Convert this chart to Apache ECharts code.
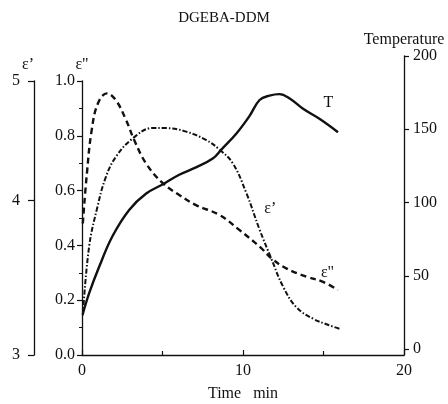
<!DOCTYPE html>
<html>
<head>
<meta charset="utf-8">
<script src="https://cdn.jsdelivr.net/npm/echarts@6/dist/echarts.min.js"></script>
<style>
  html, body { margin: 0; padding: 0; background: #fff; }
  #chart { width: 448px; height: 404px; }
</style>
</head>
<body>
<div id="chart"></div>
<script>
// temperature (solid, right axis)
const timeT = [0.05, 0.44, 1.06, 1.89, 2.93, 3.97, 5.11, 6.04, 7.08, 8.12, 8.64, 9.58, 10.4, 11.03, 11.65, 12.27, 12.9, 13.73, 14.77, 15.9]
const tempT = [24, 38, 56, 77, 95, 106, 113, 119, 124, 130, 136, 147, 159, 170, 173, 174, 171, 164, 157, 148]

// eps' (dash-dot, log axis 3..5)
const timeE1 = [0.05, 0.44, 0.95, 1.48, 2.1, 3.13, 4.38, 5.2, 6.46, 7.7, 8.54, 9.36, 10.2, 11.03, 11.76, 12.48, 13.31, 14.35, 15.39, 16.0]
const eps1 = [3.23, 3.67, 3.95, 4.18, 4.34, 4.49, 4.58, 4.58, 4.55, 4.48, 4.40, 4.29, 4.06, 3.79, 3.59, 3.41, 3.28, 3.21, 3.17, 3.15]

// eps'' (dashed, 0..1)
const timeE2 = [0.05, 0.3, 0.6, 1.0, 1.55, 2.1, 2.72, 3.24, 3.97, 5.0, 6.04, 7.08, 8.54, 9.78, 11.1, 11.76, 12.69, 13.94, 14.97, 15.9]
const eps2 = [0.48, 0.66, 0.82, 0.92, 0.955, 0.93, 0.86, 0.785, 0.70, 0.628, 0.584, 0.547, 0.511, 0.456, 0.392, 0.353, 0.316, 0.286, 0.267, 0.237]

const eps1Ticks = [3, 4, 5]
const tempTicks = [0, 50, 100, 150, 200]

const zip = (xs, ys) => xs.map((x, i) => [x, ys[i]])

const chart = echarts.init(document.getElementById('chart'))
const serif = '"Liberation Serif", "Times New Roman", serif'
const ink = '#111'
const txt = { fontFamily: serif, fontSize: 16, color: ink }
const nameTxt = { ...txt, verticalAlign: 'middle' }
const line = { show: true, onZero: false, lineStyle: { color: ink, width: 1.3 } }
const tick = (len, extra) => Object.assign({ show: true, length: len, lineStyle: { color: ink, width: 1.2 } }, extra)

const curveLabel = (text) => ({
  symbol: 'circle',
  symbolSize: 0,
  label: { show: true, position: 'inside', formatter: text, ...txt },
})

const option = {
  animation: false,
  title: {
    text: 'DGEBA-DDM',
    left: 'center',
    top: 6,
    textStyle: { fontFamily: serif, fontSize: 15, fontWeight: 'normal', color: ink },
  },
  grid: [
    { left: 82, right: 44, top: 81, bottom: 49, outerBoundsMode: 'none' },
    { left: 82, right: 44, top: 56, bottom: 49, outerBoundsMode: 'none' },
  ],
  xAxis: [
    {
      gridIndex: 0,
      type: 'value',
      min: 0,
      max: 20,
      interval: 10,
      name: 'Time   min',
      nameLocation: 'middle',
      nameGap: 31,
      nameTextStyle: txt,
      axisLine: line,
      axisTick: tick(5, { inside: true }),
      minorTick: { show: true, splitNumber: 2, length: 4, lineStyle: { color: ink, width: 1.2 } },
      axisLabel: { ...txt, margin: 8 },
      splitLine: { show: false },
    },
    { gridIndex: 1, type: 'value', min: 0, max: 20, show: false },
  ],
  yAxis: [
    {
      gridIndex: 0,
      type: 'value',
      min: 0,
      max: 1,
      interval: 0.2,
      position: 'left',
      name: 'ε"',
      nameLocation: 'end',
      nameGap: 13,
      nameTextStyle: nameTxt,
      axisLine: line,
      axisTick: tick(5),
      minorTick: { show: true, splitNumber: 2, length: 3, lineStyle: { color: ink, width: 1 } },
      axisLabel: { ...txt, margin: 7, formatter: v => v.toFixed(1) },
      splitLine: { show: false },
    },
    {
      gridIndex: 0,
      type: 'log',
      min: 3,
      max: 5,
      position: 'left',
      offset: 48,
      name: 'ε’',
      nameLocation: 'end',
      nameGap: 13,
      nameTextStyle: { ...nameTxt, padding: [0, 12, 0, 0] },
      axisLine: line,
      axisTick: tick(6, { customValues: eps1Ticks }),
      minorTick: { show: false },
      axisLabel: { ...txt, margin: 14, customValues: eps1Ticks },
      splitLine: { show: false },
    },
    {
      gridIndex: 1,
      type: 'value',
      min: -4,
      max: 200,
      position: 'right',
      name: 'Temperature',
      nameLocation: 'end',
      nameGap: 11,
      nameTextStyle: nameTxt,
      axisLine: line,
      axisTick: tick(5, { customValues: tempTicks }),
      axisLabel: { ...txt, margin: 9, customValues: tempTicks },
      splitLine: { show: false },
    },
  ],
  series: [
    {
      name: 'T',
      type: 'line',
      xAxisIndex: 1,
      yAxisIndex: 2,
      data: zip(timeT, tempT),
      smooth: 0.4,
      symbol: 'none',
      lineStyle: { color: ink, width: 2.4 },
      markPoint: { data: [{ coord: [15.3, 168], ...curveLabel('T') }] },
    },
    {
      name: "ε'",
      type: 'line',
      xAxisIndex: 0,
      yAxisIndex: 1,
      data: zip(timeE1, eps1),
      smooth: 0.4,
      symbol: 'none',
      lineStyle: { color: ink, width: 2, type: [5, 2, 1.5, 2] },
      markPoint: { data: [{ coord: [11.7, 3.94], ...curveLabel('ε’') }] },
    },
    {
      name: 'ε"',
      type: 'line',
      xAxisIndex: 0,
      yAxisIndex: 0,
      data: zip(timeE2, eps2),
      smooth: 0.4,
      symbol: 'none',
      lineStyle: { color: ink, width: 2.4, type: [6, 4] },
      markPoint: { data: [{ coord: [15.25, 0.30], ...curveLabel('ε"') }] },
    },
  ],
}

chart.setOption(option)
window.addEventListener('resize', () => chart.resize())
</script>
</body>
</html>
